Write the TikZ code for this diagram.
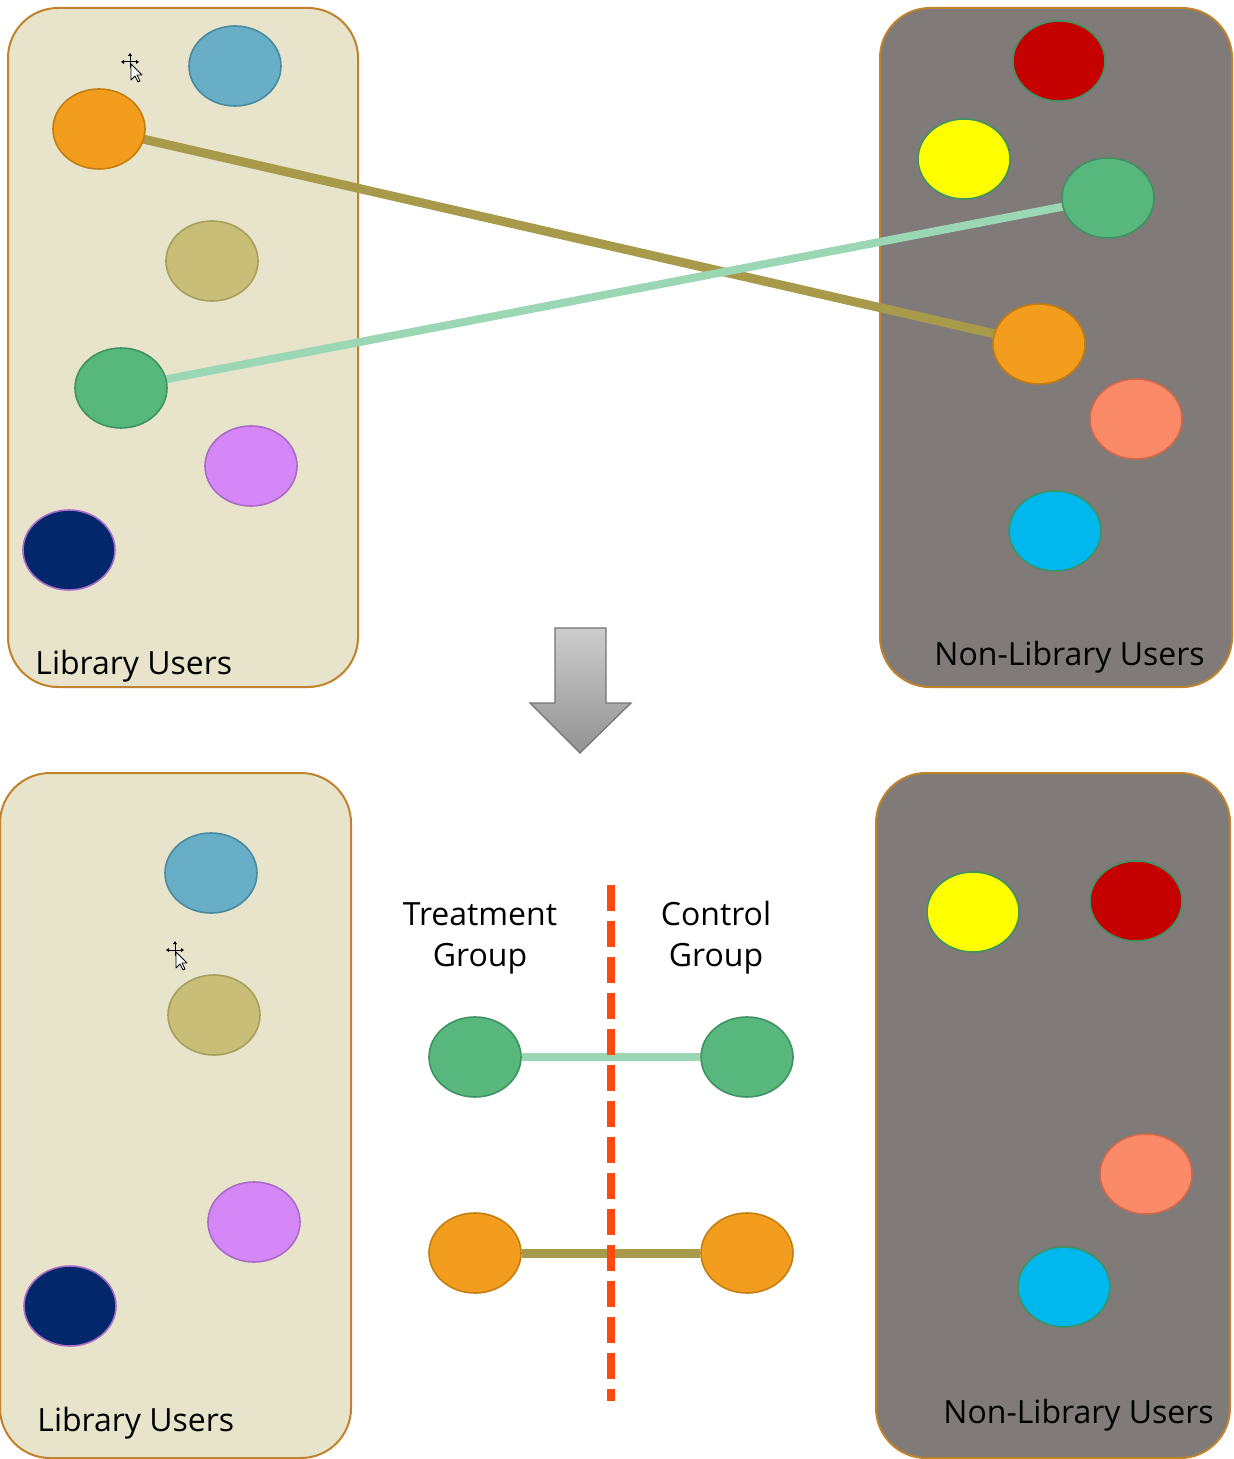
\documentclass[tikz,border=0pt]{standalone}
\usepackage{fontspec}
\setmainfont{Open Sans}
\usetikzlibrary{shapes.geometric}
\definecolor{libfill}{HTML}{E8E3CB}
\definecolor{nonfill}{HTML}{807B79}
\definecolor{boxedge}{HTML}{C0822A}
\definecolor{cblue}{HTML}{67AEC6}\definecolor{eblue}{HTML}{4A8AA0}
\definecolor{corange}{HTML}{F29D1E}\definecolor{eorange}{HTML}{C47E10}
\definecolor{ckhaki}{HTML}{C8BE78}\definecolor{ekhaki}{HTML}{A79F5E}
\definecolor{cgreen}{HTML}{57B77D}\definecolor{egreen}{HTML}{3F9262}
\definecolor{cviolet}{HTML}{D587F8}\definecolor{eviolet}{HTML}{A86CC8}
\definecolor{cnavy}{HTML}{03276B}
\definecolor{cred}{HTML}{C40000}
\definecolor{cyellow}{HTML}{FFFF00}
\definecolor{csalmon}{HTML}{FA8A68}\definecolor{esalmon}{HTML}{D0684A}
\definecolor{ccyan}{HTML}{00B8EE}
\definecolor{lorange}{HTML}{A89A4B}
\definecolor{lgreen}{HTML}{9BD6B5}
\definecolor{dashred}{HTML}{FC4A10}
\tikzset{
  libbox/.style={draw=boxedge, line width=1pt, fill=libfill, rounded corners=25pt, inner sep=0pt},
  nonbox/.style={draw=boxedge, line width=1pt, fill=nonfill, rounded corners=25pt, inner sep=0pt},
  dot/.style={ellipse, minimum width=46pt, minimum height=40pt, inner sep=0pt, line width=0.8pt},
  lbl/.style={font=\fontsize{16}{19}\selectfont, anchor=base west, inner sep=0pt},
  grp/.style={font=\fontsize{16}{20.5}\selectfont, align=center, inner sep=0pt},
  olink/.style={lorange, line width=4.5pt},
  glink/.style={lgreen, line width=4pt},
  cursor/.style={fill=white, draw=black, line width=0.4pt, line join=round}
}
\begin{document}
\begin{tikzpicture}[x=0.5pt, y=-0.5pt]
\useasboundingbox (0,0) rectangle (1233,1459);
% boxes
\node[libbox, minimum width=175pt, minimum height=339.5pt] (tl) at (183,347.5) {};
\node[nonbox, minimum width=176pt, minimum height=339.5pt] (tr) at (1056,347.5) {};
\node[libbox, minimum width=175.5pt, minimum height=342.5pt] (bl) at (175.5,1115.5) {};
\node[nonbox, minimum width=177pt, minimum height=342.5pt] (br) at (1053,1115.5) {};
% labels
\node[lbl] (tll) at (35,674) {Library Users};
\node[lbl] (trl) at (934,665) {Non-Library Users};
\node[lbl] (bll) at (37,1431) {Library Users};
\node[lbl] (brl) at (943,1423) {Non-Library Users};
% top-left ellipses
\coordinate (p1) at (235,66);
\coordinate (p2) at (99,129);
\coordinate (p3) at (212,261);
\coordinate (p4) at (121,388);
\coordinate (p5) at (251,466);
\coordinate (p6) at (69,550);
% top-right
\coordinate (q1) at (1059,61);
\coordinate (q2) at (964,159);
\coordinate (q3) at (1108,198);
\coordinate (q4) at (1039,344);
\coordinate (q5) at (1136,419);
\coordinate (q6) at (1055,531);
% links (behind dots)
\draw[olink] (p2) -- (q4);
\draw[glink] (p4) -- (q3);
\node[dot, fill=cblue, draw=eblue] (tlblue) at (p1) {};
\node[dot, fill=corange, draw=eorange] (tlorange) at (p2) {};
\node[dot, fill=ckhaki, draw=ekhaki] (tlkhaki) at (p3) {};
\node[dot, fill=cgreen, draw=egreen] (tlgreen) at (p4) {};
\node[dot, fill=cviolet, draw=eviolet] (tlviolet) at (p5) {};
\node[dot, fill=cnavy, draw=eviolet] (tlnavy) at (p6) {};
\node[dot, fill=cred, draw=egreen] (trred) at (q1) {};
\node[dot, fill=cyellow, draw=egreen] (tryellow) at (q2) {};
\node[dot, fill=cgreen, draw=egreen] (trgreen) at (q3) {};
\node[dot, fill=corange, draw=eorange] (trorange) at (q4) {};
\node[dot, fill=csalmon, draw=esalmon] (trsalmon) at (q5) {};
\node[dot, fill=ccyan, draw=egreen] (trcyan) at (q6) {};
% big arrow
\shade[top color=gray!40, bottom color=gray!85, draw=gray!110, line width=0.6pt]
  (555,628) -- (606,628) -- (606,703) -- (631,703) -- (580,753) -- (530,703) -- (555,703) -- cycle;
% bottom-left ellipses
\node[dot, fill=cblue, draw=eblue] (blblue) at (211,873) {};
\node[dot, fill=ckhaki, draw=ekhaki] (blkhaki) at (214,1015) {};
\node[dot, fill=cviolet, draw=eviolet] (blviolet) at (254,1222) {};
\node[dot, fill=cnavy, draw=eviolet] (blnavy) at (70,1306) {};
% bottom-right ellipses
\node[dot, fill=cyellow, draw=egreen] (bryellow) at (973,912) {};
\node[dot, fill=cred, draw=egreen] (brred) at (1136,901) {};
\node[dot, fill=csalmon, draw=esalmon] (brsalmon) at (1146,1174) {};
\node[dot, fill=ccyan, draw=egreen] (brcyan) at (1064,1287) {};
% middle
\node[grp] (treat) at (480,938) {Treatment\\Group};
\node[grp] (ctrl) at (716,938) {Control\\Group};
\node[dot, fill=cgreen, draw=egreen] (mg1) at (475,1057) {};
\node[dot, fill=cgreen, draw=egreen] (mg2) at (747,1057) {};
\node[dot, fill=corange, draw=eorange] (mo1) at (475,1253) {};
\node[dot, fill=corange, draw=eorange] (mo2) at (747,1253) {};
\draw[glink] (mg1) -- (mg2);
\draw[olink] (mo1) -- (mo2);
\coordinate (dtop) at (611,885);
\coordinate (dbot) at (611,1401);
\draw[dashred, line width=4pt, dash pattern=on 13pt off 5pt] (dtop) -- (dbot);
% cursors
\foreach \cx/\cy in {130/62, 175/950} {
  \begin{scope}[shift={(\cx,\cy)}]
    \draw[black, line width=0.5pt] (-8,0) -- (8,0) (0,-8) -- (0,6);
    \fill[black] (-9,0) -- (-6,-2) -- (-6,2) -- cycle;
    \fill[black] (9,0) -- (6,-2) -- (6,2) -- cycle;
    \fill[black] (0,-9) -- (-2,-6) -- (2,-6) -- cycle;
    \draw[cursor] (1,2) -- (1,18) -- (5,14) -- (8,20) -- (10,19) -- (7,13) -- (12,13) -- cycle;
  \end{scope}
}
\end{tikzpicture}
\end{document}
